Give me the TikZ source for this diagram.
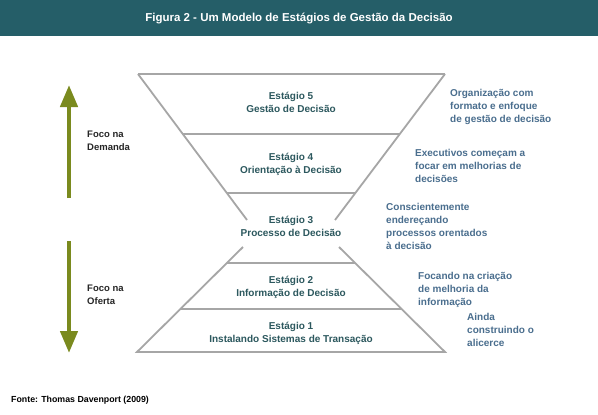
\documentclass[tikz,border=0pt]{standalone}
\usepackage{fontspec}
\setmainfont{Liberation Sans}
\usetikzlibrary{arrows.meta}
\definecolor{headerc}{RGB}{37,94,104}
\definecolor{stagec}{RGB}{44,88,94}
\definecolor{notec}{RGB}{74,110,142}
\definecolor{linec}{RGB}{166,166,166}
\definecolor{olivec}{RGB}{122,138,30}
\tikzset{
  stagetext/.style={anchor=base, align=center, inner sep=0pt, text=stagec,
    font=\fontsize{10}{13}\selectfont\bfseries},
  notetext/.style={anchor=base west, align=left, inner sep=0pt, text=notec,
    font=\fontsize{10}{13}\selectfont\bfseries},
  focustext/.style={anchor=base west, align=left, inner sep=0pt, text=black!85,
    font=\fontsize{9.5}{13}\selectfont\bfseries},
  funnel/.style={draw=linec, line width=1.8pt},
  bigarrow/.style={draw=olivec, line width=4.5pt, -{Triangle[width=17pt,length=22pt]}},
}
\begin{document}
\begin{tikzpicture}[x=1pt,y=-1pt]
\useasboundingbox (0,0) rectangle (598,415);
\fill[white] (0,0) rectangle (598,415);
\fill[headerc] (0,0) rectangle (598,36);
\node[anchor=base, inner sep=0pt, text=white, font=\fontsize{11.5}{14}\selectfont\bfseries] (title) at (299,21.5) {Figura 2 - Um Modelo de Estágios de Gestão da Decisão};

% upper funnel
\draw[funnel] (138,74) -- (445,74);
\draw[funnel] (138,74) -- (247,220);
\draw[funnel] (445,74) -- (335,220);
\draw[funnel] (182.8,134) -- (399.8,134);
\draw[funnel] (226.8,193) -- (355.3,193);
% lower trapezoid
\draw[funnel] (243,247) -- (137,352) -- (445,352) -- (339,247);
\draw[funnel] (226.8,263) -- (355.2,263);
\draw[funnel] (180.4,309) -- (401.6,309);

% stage labels (base anchor = last line baseline)
\node[stagetext] (s5) at (291,112.5) {Estágio 5\\Gestão de Decisão};
\node[stagetext] (s4) at (291,173.5) {Estágio 4\\Orientação à Decisão};
\node[stagetext] (s3) at (291,236.5) {Estágio 3\\Processo de Decisão};
\node[stagetext] (s2) at (291,296.5) {Estágio 2\\Informação de Decisão};
\node[stagetext] (s1) at (291,342.5) {Estágio 1\\Instalando Sistemas de Transação};

% notes
\node[notetext] (n5) at (450,122.5) {Organização com\\formato e enfoque\\de gestão de decisão};
\node[notetext] (n4) at (415,182.5) {Executivos começam a\\focar em melhorias de\\decisões};
\node[notetext] (n3) at (386,249.5) {Conscientemente\\endereçando\\processos orentados\\à decisão};
\node[notetext] (n2) at (418,305.5) {Focando na criação\\de melhoria da\\informação};
\node[notetext] (n1) at (467,346.5) {Ainda\\construindo o\\alicerce};

% arrows
\coordinate (upS) at (69,198);
\coordinate (upT) at (69,85);
\coordinate (dnS) at (69,241);
\coordinate (dnT) at (69,353);
\draw[bigarrow] (upS) -- (upT);
\draw[bigarrow] (dnS) -- (dnT);
\node[focustext] (fd) at (87,150.5) {Foco na\\Demanda};
\node[focustext] (fo) at (87,304) {Foco na\\Oferta};

% source
\node[anchor=base west, inner sep=0pt, font=\fontsize{8.8}{10}\selectfont\bfseries] (src) at (11,402) {Fonte: Thomas Davenport (2009)};
\end{tikzpicture}
\end{document}
